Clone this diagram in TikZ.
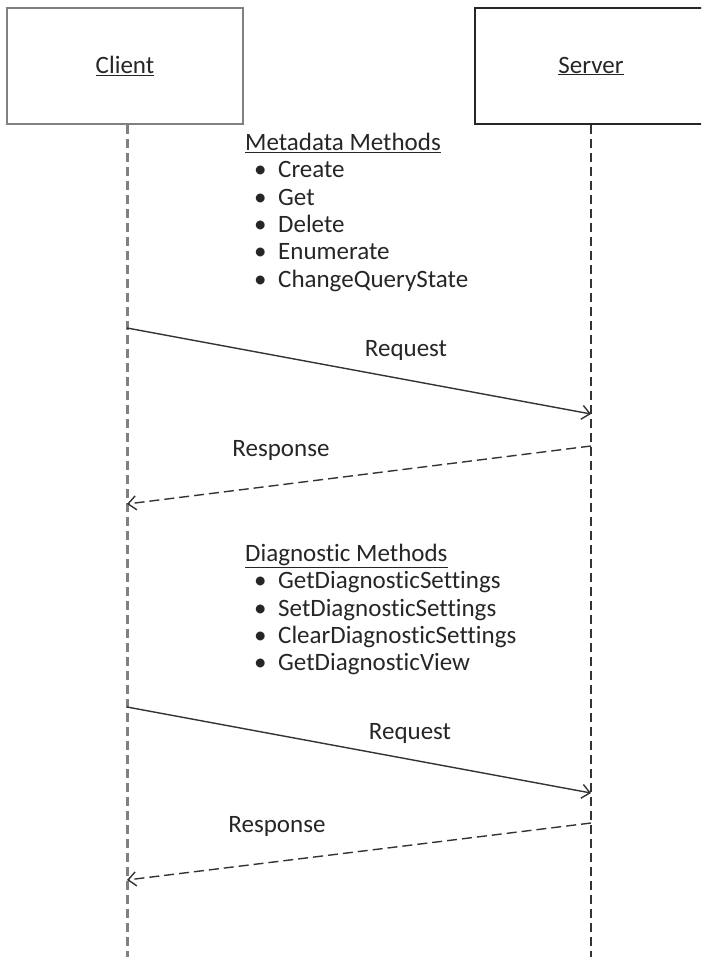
\documentclass[tikz,border=0pt]{standalone}
\usepackage{fontspec}
\setmainfont[Ligatures=CommonOff]{Carlito}
\usetikzlibrary{positioning,arrows.meta}

\newcommand{\methoditem}[1]{\hspace{9pt}\makebox[24pt][l]{\textbullet}#1}

\begin{document}
\begin{tikzpicture}[x=1pt,y=-1pt,
    every node/.style={font=\fontsize{25}{27.3}\selectfont, text=black!85},
    lifebox/.style={draw, minimum height=116pt, inner sep=0pt},
    msg/.style={-{Straight Barb[length=8pt,width=14pt]}, black!80, line width=1.4pt},
    reply/.style={msg, dash pattern=on 10pt off 5pt},
    methods/.style={anchor=north west, align=left, inner sep=0pt}]
    \clip (0,0) rectangle (701,957);
    \useasboundingbox (0,0) rectangle (701,957);

    % lifeline positions
    \pgfmathsetmacro{\cx}{127} % Client
    \pgfmathsetmacro{\sx}{591} % Server

    % the two boxes
    \node[lifebox, gray, line width=2pt, minimum width=236pt, text=black!85] (client) at (125,66) {\underline{Client}};
    \node[lifebox, black!85, line width=1.5pt, minimum width=240pt] (server) at (595,66) {};
    \node at (\sx,66) (servername) {\underline{Server}};

    % lifelines
    \draw[gray, line width=3pt, dash pattern=on 9pt off 5pt] (\cx,125) -- (\cx,957);
    \draw[black!80, line width=1.5pt, dash pattern=on 9pt off 5pt] (\sx,125) -- (\sx,957);

    % Metadata Methods
    \node[methods] (meta) at (245,133) {%
        \underline{Metadata Methods}\\
        \methoditem{Create}\\
        \methoditem{Get}\\
        \methoditem{Delete}\\
        \methoditem{Enumerate}\\
        \methoditem{ChangeQueryState}};

    % first request / response
    \coordinate (c1) at (\cx,328);
    \coordinate (s1) at (\sx,414);
    \coordinate (s2) at (\sx,446);
    \coordinate (c2) at (\cx,504);
    \draw[msg] (c1) -- (s1);
    \node (req1) at (406,350) {Request};
    \draw[reply] (s2) -- (c2);
    \node (resp1) at (281,450) {Response};

    % Diagnostic Methods
    \node[methods] (diag) at (245,544) {%
        \underline{Diagnostic Methods}\\
        \methoditem{GetDiagnosticSettings}\\
        \methoditem{SetDiagnosticSettings}\\
        \methoditem{ClearDiagnosticSettings}\\
        \methoditem{GetDiagnosticView}};

    % second request / response
    \coordinate (c3) at (\cx,707);
    \coordinate (s3) at (\sx,793);
    \coordinate (s4) at (\sx,823);
    \coordinate (c4) at (\cx,880);
    \draw[msg] (c3) -- (s3);
    \node (req2) at (410,733) {Request};
    \draw[reply] (s4) -- (c4);
    \node (resp2) at (277,826) {Response};
\end{tikzpicture}
\end{document}
